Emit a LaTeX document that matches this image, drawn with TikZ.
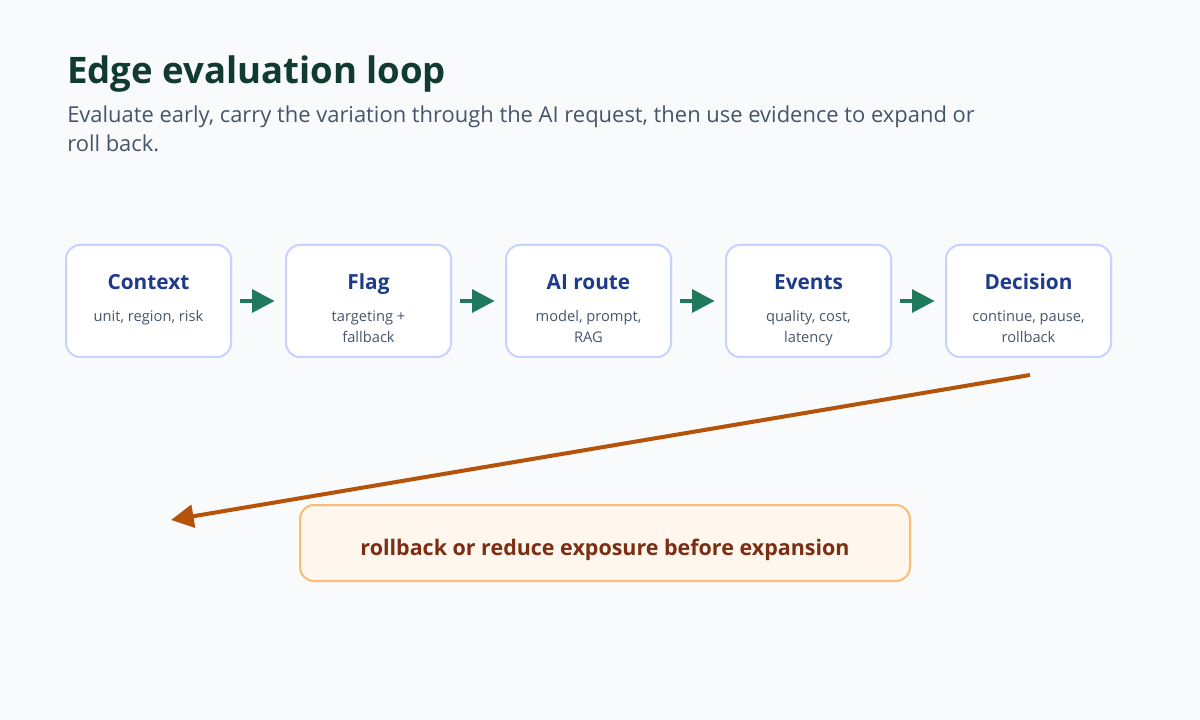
\documentclass[tikz,border=0pt]{standalone}
\usepackage{fontspec}
\setmainfont{Open Sans}
\usetikzlibrary{arrows.meta, positioning}
\definecolor{pagebg}{RGB}{248,250,252}
\definecolor{titlecol}{RGB}{17,58,50}
\definecolor{subgray}{RGB}{71,85,105}
\definecolor{sline}{RGB}{199,210,254}
\definecolor{shead}{RGB}{30,58,138}
\definecolor{flowgreen}{RGB}{31,122,92}
\definecolor{backorange}{RGB}{180,83,9}
\definecolor{nfill}{RGB}{255,247,237}
\definecolor{nline}{RGB}{253,186,116}
\definecolor{ntext}{RGB}{124,45,18}

\begin{document}
\begin{tikzpicture}[
  x=0.75pt, y=-0.75pt,
  stage/.style={draw=sline, fill=white, rounded corners=10.5pt, line width=1.5pt,
                minimum width=123.75pt, minimum height=84pt, inner sep=0pt, outer sep=0pt},
  head/.style={font=\fontsize{15.6}{18}\selectfont\bfseries, text=shead,
               inner sep=0pt, anchor=base},
  sub/.style={font=\fontsize{11}{15.75}\selectfont, text=subgray, align=center,
              inner sep=0pt, anchor=north},
  flow/.style={-{Triangle[length=17pt, width=17pt]}, draw=flowgreen, line width=3.2pt,
               shorten <=7pt, shorten >=8.5pt},
  back/.style={-{Triangle[length=17pt, width=17pt]}, draw=backorange, line width=3pt},
  note/.style={draw=nline, fill=nfill, rounded corners=10.5pt, line width=1.5pt,
               minimum width=457.5pt, minimum height=57pt, inner sep=0pt,
               text height=22.7pt, text depth=3.9pt,
               font=\fontsize{16.1}{19}\selectfont\bfseries, text=ntext},
  node distance=41.25pt,
]
\fill[pagebg] (0,0) rectangle (1200,720);

\node[anchor=base west, inner sep=0pt, text=titlecol,
      font=\fontsize{27.4}{32}\selectfont\bfseries] (title) at (67,84) {Edge evaluation loop};
\node[anchor=north west, inner sep=0pt, text=subgray, align=left,
      font=\fontsize{16.45}{21.75}\selectfont] (lead) at (67,101.7)
  {\strut Evaluate early, carry the variation through the AI request, then use evidence to expand or\\roll back.};

\node[stage] (ctx) at (148.5,301) {};
\node[stage, right=of ctx] (flag) {};
\node[stage, right=of flag] (route) {};
\node[stage, right=of route] (events) {};
\node[stage, right=of events] (dec) {};

\node[head] (ctx-h) at ([yshift=-33.75pt]ctx.north) {Context};
\node[sub] (ctx-s) at ([yshift=-46pt]ctx.north) {\strut unit, region, risk};
\node[head] (flag-h) at ([yshift=-33.75pt]flag.north) {Flag};
\node[sub] (flag-s) at ([yshift=-46pt]flag.north) {\strut targeting +\\fallback};
\node[head] (route-h) at ([yshift=-33.75pt]route.north) {AI route};
\node[sub] (route-s) at ([yshift=-46pt]route.north) {\strut model, prompt,\\RAG};
\node[head] (events-h) at ([yshift=-33.75pt]events.north) {Events};
\node[sub] (events-s) at ([yshift=-46pt]events.north) {\strut quality, cost,\\latency};
\node[head] (dec-h) at ([yshift=-33.75pt]dec.north) {Decision};
\node[sub] (dec-s) at ([yshift=-46pt]dec.north) {\strut continue, pause,\\rollback};

\draw[flow] (ctx) -- (flag);
\draw[flow] (flag) -- (route);
\draw[flow] (route) -- (events);
\draw[flow] (events) -- (dec);

% way back out of the loop
\coordinate (rb) at (171,520);
\draw[back] ([xshift=1.1pt, yshift=-13.5pt]dec.south) -- (rb);
\node[note] (rb-note) at (605,543) {rollback or reduce exposure before expansion};
\end{tikzpicture}
\end{document}
